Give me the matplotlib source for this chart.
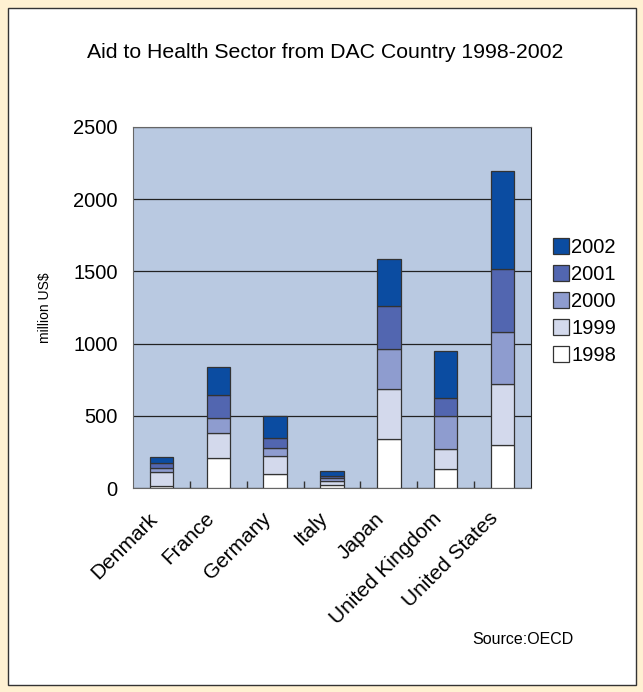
import numpy as np
import matplotlib.pyplot as plt
import matplotlib.transforms as mtransforms
from matplotlib.patches import Rectangle

plt.rcParams['font.family'] = ['Liberation Sans', 'DejaVu Sans']

countries = ['Denmark', 'France', 'Germany', 'Italy', 'Japan',
             'United Kingdom', 'United States']
years = ['1998', '1999', '2000', '2001', '2002']

# million US$
aid_1998 = [14, 210, 99, 21, 342, 134, 298]
aid_1999 = [95, 171, 125, 30, 342, 134, 425]
aid_2000 = [27, 106, 51, 16, 277, 231, 360]
aid_2001 = [39, 158, 69, 18, 300, 127, 433]
aid_2002 = [42, 196, 155, 35, 324, 323, 679]

colors = ['#ffffff', '#d3d9ec', '#8e9ccf', '#5266b0', '#0b4ca1']

fig = plt.figure(figsize=(6.43, 6.92), dpi=100)
fig.patch.set_facecolor('#fff1d2')
# white panel with a thin dark frame
fig.patches.append(Rectangle((8 / 643, 1 - 685 / 692), 628 / 643, 677 / 692,
                             transform=fig.transFigure, facecolor='white',
                             edgecolor='#333333', linewidth=1.0, zorder=-10))

ax = fig.add_axes([133 / 643, 1 - 488 / 692, 398 / 643, 361 / 692])
ax.set_facecolor('#b9c9e1')

x = np.arange(len(countries))
bottom = np.zeros(len(countries))
series = [aid_1998, aid_1999, aid_2000, aid_2001, aid_2002]
handles = []
for vals, col, yr in zip(series, colors, years):
    b = ax.bar(x, vals, 0.41, bottom=bottom, color=col, edgecolor='#333333',
               linewidth=0.9, label=yr, zorder=3)
    handles.append(b)
    bottom += np.array(vals)

ax.set_xlim(-0.5, len(countries) - 0.5)
ax.set_ylim(0, 2500)
ax.set_yticks([0, 500, 1000, 1500, 2000, 2500])
ax.yaxis.grid(True, color='#222222', linewidth=0.9, zorder=1)
ax.set_axisbelow(True)
ax.tick_params(axis='y', length=0, labelsize=14.5, pad=11)

ax.set_xticks(x)
ax.set_xticklabels(countries, rotation=45, ha='right', rotation_mode='anchor',
                   fontsize=15)
ax.tick_params(axis='x', length=0, pad=15)
shift = mtransforms.ScaledTranslation(-14 / 100, 0, fig.dpi_scale_trans)
for lbl in ax.get_xticklabels():
    lbl.set_transform(lbl.get_transform() + shift)
ax.set_xticks(x[:-1] + 0.5, minor=True)
ax.tick_params(axis='x', which='minor', direction='in', length=5,
               color='#333333', width=1)

for s in ['top', 'left', 'bottom']:
    ax.spines[s].set_color('#666666')
ax.spines['right'].set_color('#222222')

ax.set_ylabel('million US$', fontsize=10, labelpad=15)

fig.text(0.506, 1 - 52 / 692, 'Aid to Health Sector from DAC Country 1998-2002',
         ha='center', va='center', fontsize=15.3)
fig.text(574 / 643, 1 - 640 / 692, 'Source:OECD', ha='right', va='center',
         fontsize=11.5)

leg = ax.legend(handles[::-1], years[::-1], loc='upper left',
                bbox_to_anchor=(1.035, 0.715), frameon=False, fontsize=14.5,
                handlelength=0.8, handleheight=0.8, handletextpad=0.1,
                labelspacing=0.4, borderaxespad=0)

fig.savefig('out.png', dpi=100, facecolor=fig.get_facecolor())
